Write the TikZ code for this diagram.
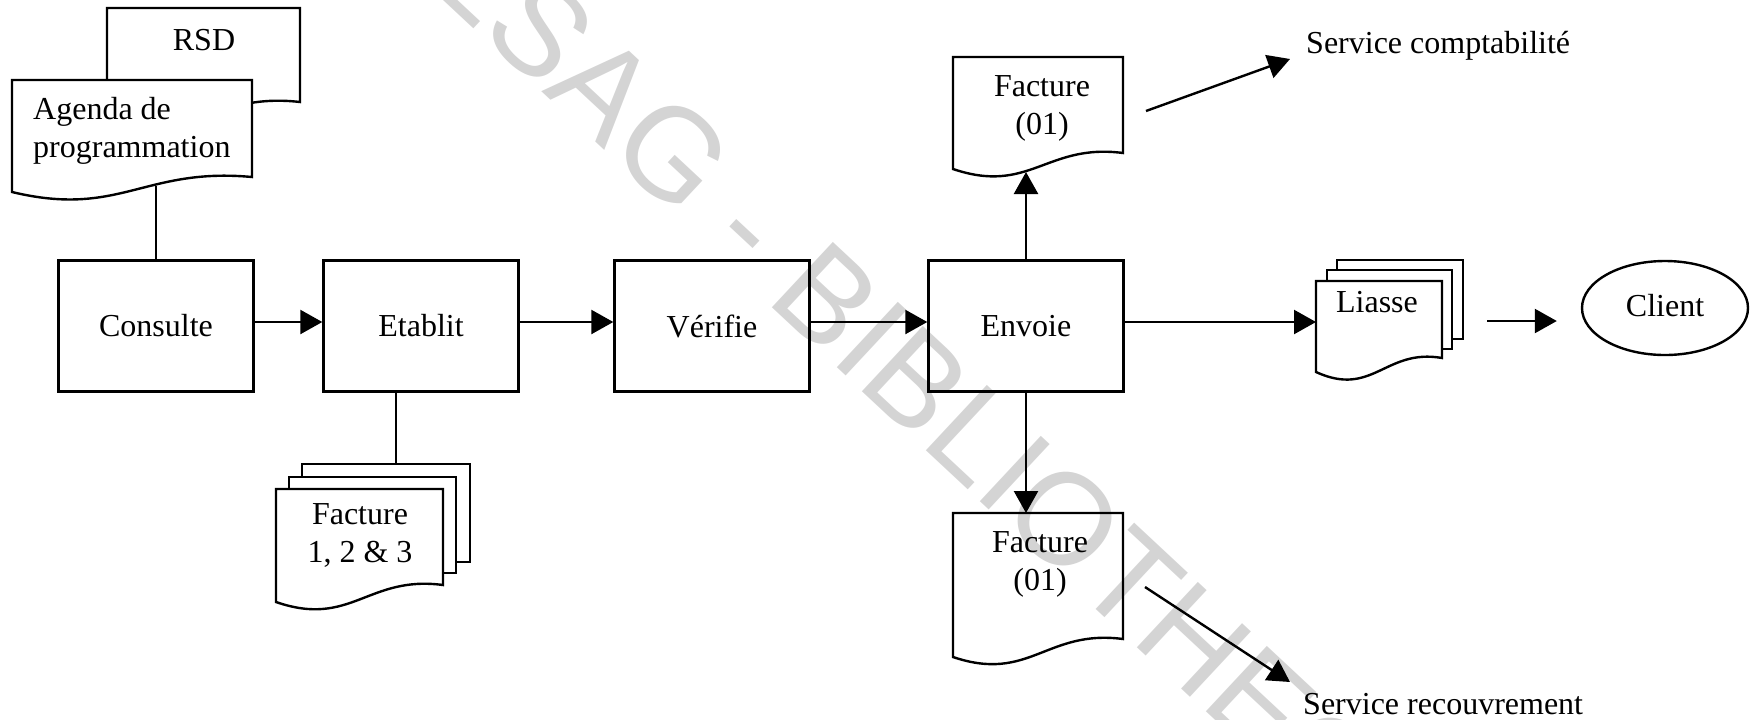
\documentclass[tikz,border=0pt]{standalone}
\usepackage{fontspec}
\setmainfont{Liberation Serif}
\newfontfamily\stampfont{Liberation Sans}
\usetikzlibrary{arrows.meta,shapes.geometric}

% A sheet of paper with a wavy lower edge: left, top, right, lower-left y, lower-right y
\newcommand{\docsheet}[5]{%
  \draw[sheet] (#1,#2) -- (#3,#2) -- (#3,#5)
    .. controls ({#3-0.45*(#3-#1)},{#5-10}) and ({#1+0.45*(#3-#1)},{#4+26}) .. (#1,#4) -- cycle;}

\begin{document}
\begin{tikzpicture}[x=0.5pt,y=-0.5pt,line width=1.2pt,
  every node/.style={font=\fontsize{16pt}{19pt}\selectfont},
  sheet/.style={draw,fill=white},
  proc/.style={draw,minimum width=97.5pt,minimum height=65.5pt,inner sep=0pt},
  txt/.style={inner sep=0pt,align=center},
  flow/.style={-{Triangle[length=11pt,width=12pt]}},
  stamp/.style={inner sep=0pt,rotate=-43,text=black!17,
    font=\stampfont\fontsize{65pt}{65pt}\selectfont}]
\useasboundingbox (0,0) rectangle (1752,719);

% --- documents ---
\docsheet{107}{8}{300}{118}{102}
\docsheet{12}{80}{252}{192}{177}
\node[txt] (rsd) at (204,40) {RSD};
\node[txt,anchor=west,align=left] (agenda) at (32,131) {Agenda de\\programmation};

\draw[sheet] (302,464) rectangle (470,562);
\draw[sheet] (289,477) rectangle (456,573);
\docsheet{276}{489}{443}{602}{585}
\node[txt] (fact123) at (360,535) {Facture\\1, 2 \& 3};

\docsheet{953}{57}{1123}{169}{153}
\node[txt] (factA) at (1042,108) {Facture\\(01)};
\docsheet{953}{513}{1123}{657}{639}
\node[txt] (factB) at (1040,564) {Facture\\(01)};

\draw[sheet] (1337,260) rectangle (1463,339);
\draw[sheet] (1327,270) rectangle (1452,349);
\docsheet{1316}{281}{1442}{372}{358}
\node[txt] (liasse) at (1377,302) {Liasse};

% --- processing steps ---
\node[proc] (consulte) at (156,326) {Consulte};
\node[proc] (etablit) at (421,326) {Etablit};
\node[proc] (verifie) at (712,326) {Vérifie};
\node[proc] (envoie) at (1026,326) {Envoie};

\node[draw,ellipse,minimum width=83pt,minimum height=47pt,inner sep=0pt] (client) at (1665,308) {\raisebox{3pt}{Client}};

\node[txt,anchor=west] (compta) at (1305,46) {Service comptabilité};
\node[txt,anchor=west] (recouv) at (1302,704) {Service recouvrement};

% --- attachment points ---
\coordinate (agendaOut) at (156,186);
\coordinate (f123In) at (396,464);
\coordinate (factAIn) at (1026,172);
\coordinate (factBIn) at (1026,513);
\coordinate (liasseIn) at (1316,322);
\coordinate (liasseOut) at (1487,321);
\coordinate (factAOut) at (1146,111);
\coordinate (comptaIn) at (1290,59);
\coordinate (factBOut) at (1145,587);
\coordinate (recouvIn) at (1290,682);

% --- connectors ---
\draw (consulte.north) -- (agendaOut);
\draw (f123In |- etablit.south) -- (f123In);
\draw[flow] ([yshift=2pt]consulte.east) -- ([yshift=2pt]etablit.west);
\draw[flow] ([yshift=2pt]etablit.east) -- ([yshift=2pt]verifie.west);
\draw[flow] ([yshift=2pt]verifie.east) -- ([yshift=2pt]envoie.west);
\draw[flow] ([yshift=2pt]envoie.east) -- (liasseIn);
\draw[flow,shorten >=12pt] (liasseOut) -- (liasseOut -| client.west);
\draw[flow] (envoie.north) -- (factAIn);
\draw[flow] (envoie.south) -- (factBIn);
\draw[flow] (factAOut) -- (comptaIn);
\draw[flow] (factBOut) -- (recouvIn);

% --- library stamp across the sheet ---
\begin{scope}[blend mode=multiply]
  \clip (0,0) rectangle (1752,719);
  \node[stamp,anchor=base east] (stampA) at (738,275) {CESAG -};
  \node[stamp,anchor=base west] (stampB) at (764,300) {BIBLIOTHEQUE};
\end{scope}
\end{tikzpicture}
\end{document}
